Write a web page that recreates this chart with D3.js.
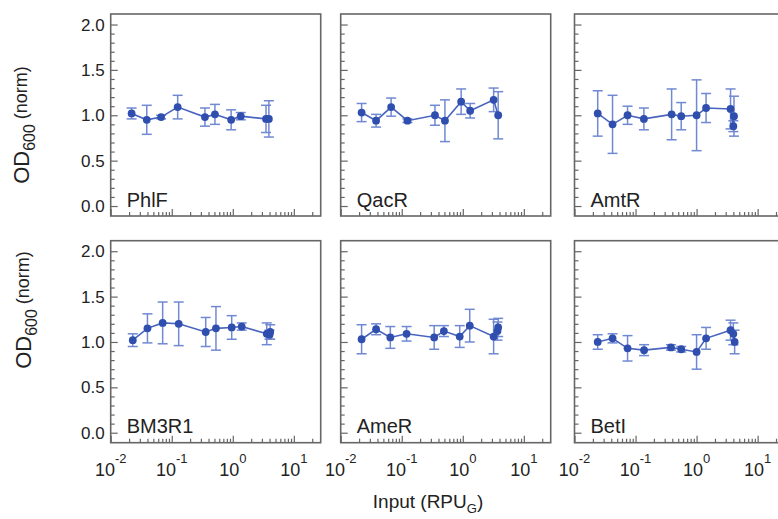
<!DOCTYPE html>
<html>
<head>
<meta charset="utf-8">
<script src="https://cdn.jsdelivr.net/npm/d3@7"></script>
<style>
  html, body { margin: 0; padding: 0; background: #fff; }
  svg { display: block; font-family: "Liberation Sans", Arial, Helvetica, sans-serif; }
</style>
</head>
<body>
<svg id="chart" width="778" height="519"></svg>
<script>
// Repressor growth curves: normalised OD600 versus input promoter activity
const repressors = ["PhlF", "QacR", "AmtR", "BM3R1", "AmeR", "BetI"];

const phlfInput = [0.022, 0.039, 0.067, 0.125, 0.35, 0.51, 0.94, 1.35, 3.5, 3.9];
const phlfOD    = [1.02, 0.95, 0.98, 1.09, 0.98, 1.01, 0.95, 0.99, 0.96, 0.96];
const phlfErr   = [0.06, 0.16, 0.02, 0.13, 0.10, 0.11, 0.11, 0.04, 0.15, 0.20];

const qacrInput = [0.022, 0.038, 0.067, 0.124, 0.35, 0.51, 0.94, 1.32, 3.2, 3.8];
const qacrOD    = [1.03, 0.94, 1.09, 0.94, 1.00, 0.94, 1.15, 1.05, 1.17, 1.00];
const qacrErr   = [0.10, 0.07, 0.10, 0.02, 0.11, 0.23, 0.14, 0.08, 0.13, 0.26];

const amtrInput = [0.024, 0.042, 0.074, 0.137, 0.39, 0.56, 1.0, 1.43, 3.6, 4.0, 4.1];
const amtrOD    = [1.02, 0.90, 1.00, 0.96, 1.01, 0.99, 1.00, 1.08, 1.07, 0.88, 0.99];
const amtrErr   = [0.25, 0.32, 0.10, 0.12, 0.28, 0.15, 0.39, 0.16, 0.22, 0.06, 0.22];

const bm3r1Input = [0.023, 0.040, 0.071, 0.13, 0.36, 0.53, 0.96, 1.4, 3.6, 4.0, 4.1];
const bm3r1OD    = [1.02, 1.15, 1.21, 1.20, 1.11, 1.15, 1.16, 1.17, 1.09, 1.08, 1.11];
const bm3r1Err   = [0.07, 0.16, 0.23, 0.24, 0.16, 0.24, 0.13, 0.04, 0.12, 0.05, 0.08];

const amerInput = [0.022, 0.038, 0.065, 0.12, 0.34, 0.49, 0.89, 1.3, 3.2, 3.7, 3.8];
const amerOD    = [1.03, 1.14, 1.05, 1.09, 1.05, 1.12, 1.06, 1.18, 1.06, 1.12, 1.16];
const amerErr   = [0.16, 0.06, 0.12, 0.08, 0.13, 0.06, 0.12, 0.18, 0.19, 0.10, 0.10];

const betiInput = [0.024, 0.042, 0.074, 0.138, 0.38, 0.56, 1.0, 1.43, 3.6, 4.0, 4.2];
const betiOD    = [1.00, 1.04, 0.93, 0.91, 0.94, 0.92, 0.89, 1.04, 1.13, 1.09, 1.00];
const betiErr   = [0.08, 0.05, 0.14, 0.06, 0.03, 0.03, 0.19, 0.12, 0.11, 0.12, 0.13];

const panelInputs = [phlfInput, qacrInput, amtrInput, bm3r1Input, amerInput, betiInput];
const panelOD     = [phlfOD, qacrOD, amtrOD, bm3r1OD, amerOD, betiOD];
const panelErr    = [phlfErr, qacrErr, amtrErr, bm3r1Err, amerErr, betiErr];

const yTickValues = [0, 0.5, 1, 1.5, 2];
const xMajorTicks = [0.01, 0.1, 1, 10];
const xExponents  = ["-2", "-1", "0", "1"];

// layout
const colLeft = [110.7, 340.7, 574.5];
const rowTop  = [14, 240.7];
const pw = 210, ph = 202;

const pointColor = "#2f4eae";
const lineColor  = "#4764bf";
const errColor   = "#7089d2";
const frameColor = "#666";
const textColor  = "#222";

const svg = d3.select("#chart");

const x = d3.scaleLog().domain([0.01, Math.pow(10, 1.44)]).range([0, pw]);
const y = d3.scaleLinear().domain([-0.11, 2.116]).range([ph, 0]);

// minor ticks 2..9 per decade plus 20
const xMinor = [];
[0.01, 0.1, 1].forEach(d => { for (let k = 2; k <= 9; k++) xMinor.push(d * k); });
xMinor.push(20);
const yMinor = d3.range(0, 21).map(i => i / 10).filter(v => Math.round(v * 10) % 5 !== 0);

repressors.forEach((name, i) => {
  const col = i % 3, row = Math.floor(i / 3);
  const g = svg.append("g").attr("transform", `translate(${colLeft[col]},${rowTop[row]})`);

  // inward ticks on left and bottom edges
  const yMajAxis = d3.axisRight(y).tickValues(yTickValues).tickSize(7).tickFormat("");
  const yMinAxis = d3.axisRight(y).tickValues(yMinor).tickSize(4).tickFormat("");
  g.append("g").call(yMajAxis);
  g.append("g").call(yMinAxis);
  const xMajAxis = d3.axisTop(x).tickValues(xMajorTicks).tickSize(7).tickFormat("");
  const xMinAxis = d3.axisTop(x).tickValues(xMinor).tickSize(4).tickFormat("");
  g.append("g").attr("transform", `translate(0,${ph})`).call(xMajAxis);
  g.append("g").attr("transform", `translate(0,${ph})`).call(xMinAxis);
  g.selectAll(".domain").remove();
  g.selectAll(".tick line").attr("stroke", frameColor).attr("stroke-width", 1.2);

  g.append("rect").attr("width", pw).attr("height", ph)
    .attr("fill", "none").attr("stroke", frameColor).attr("stroke-width", 1.6);

  const pts = panelInputs[i].map((v, j) => ({ x: v, y: panelOD[i][j], e: panelErr[i][j] }));

  // error bars
  const eb = g.append("g").attr("stroke", errColor).attr("stroke-width", 1.5).attr("fill", "none");
  pts.forEach(p => {
    const cx = x(p.x), y1 = y(p.y + p.e), y2 = y(p.y - p.e);
    eb.append("line").attr("x1", cx).attr("x2", cx).attr("y1", y1).attr("y2", y2);
    eb.append("line").attr("x1", cx - 5).attr("x2", cx + 5).attr("y1", y1).attr("y2", y1);
    eb.append("line").attr("x1", cx - 5).attr("x2", cx + 5).attr("y1", y2).attr("y2", y2);
  });

  g.append("path").datum(pts)
    .attr("fill", "none").attr("stroke", lineColor).attr("stroke-width", 1.6)
    .attr("d", d3.line().x(d => x(d.x)).y(d => y(d.y)));

  g.selectAll("circle.pt").data(pts).join("circle")
    .attr("class", "pt")
    .attr("cx", d => x(d.x)).attr("cy", d => y(d.y)).attr("r", 3.9)
    .attr("fill", pointColor);

  g.append("text").attr("x", 16).attr("y", 192.5)
    .attr("font-size", 20).attr("fill", textColor).text(name);

  if (col === 0) {
    yTickValues.forEach(v => {
      g.append("text").attr("x", -6).attr("y", y(v) + 6)
        .attr("text-anchor", "end").attr("font-size", 17).attr("fill", textColor)
        .text(d3.format(".1f")(v));
    });
  }
  if (row === 1) {
    xMajorTicks.forEach((v, k) => {
      const t = g.append("text").attr("x", x(v)).attr("y", ph + 33.5)
        .attr("text-anchor", "middle").attr("font-size", 18).attr("fill", textColor);
      t.append("tspan").text("10");
      t.append("tspan").attr("font-size", 13).attr("dy", -13).text(xExponents[k]);
    });
  }
});

// y axis titles
[{ cx: 29, cy: 125 }, { cx: 31, cy: 310 }].forEach(p => {
  const t = svg.append("text")
    .attr("transform", `translate(${p.cx},${p.cy}) rotate(-90)`)
    .attr("text-anchor", "middle").attr("fill", textColor).attr("font-size", 22);
  t.append("tspan").text("OD");
  t.append("tspan").attr("font-size", 16).attr("dy", 6).text("600");
  t.append("tspan").attr("font-size", 18).attr("dy", -8).text("\u00a0(norm)");
});

// x axis title
const xt = svg.append("text").attr("x", 428).attr("y", 508)
  .attr("text-anchor", "middle").attr("fill", textColor).attr("font-size", 19);
xt.append("tspan").text("Input (RPU");
xt.append("tspan").attr("font-size", 13).attr("dy", 5).text("G");
xt.append("tspan").attr("dy", -5).text(")");
</script>
</body>
</html>
